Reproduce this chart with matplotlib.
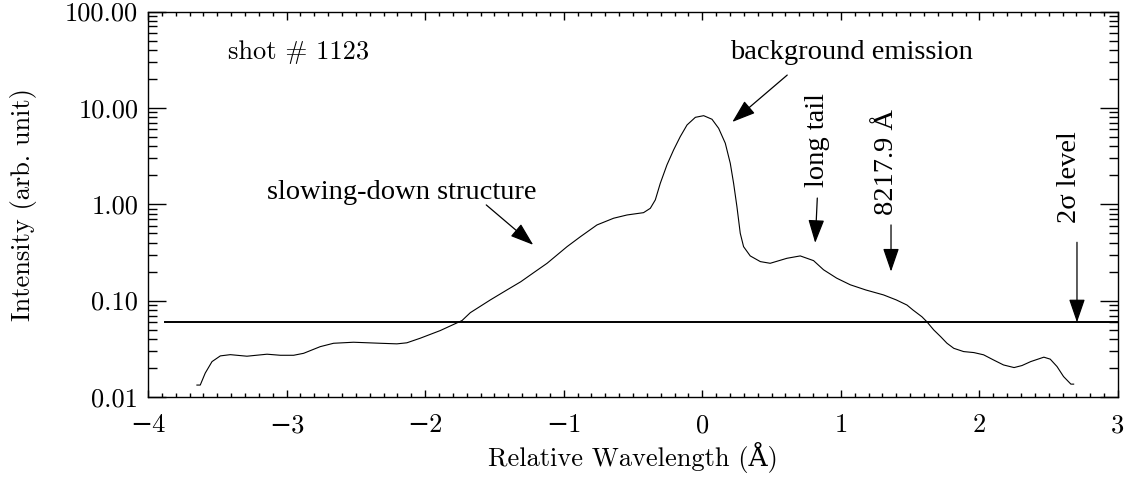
import numpy as np
import matplotlib
matplotlib.use('Agg')
import matplotlib.pyplot as plt
from matplotlib.ticker import MultipleLocator, LogLocator, NullFormatter, FuncFormatter

# spectrum of shot 1123
wavelength = [-3.647, -3.623, -3.587, -3.538, -3.478, -3.406, -3.286, -3.141, -3.045, -2.949,
              -2.877, -2.757, -2.661, -2.517, -2.324, -2.204, -2.132, -2.036, -1.891, -1.734,
              -1.674, -1.53, -1.41, -1.31, -1.217, -1.12, -0.976, -0.88, -0.76, -0.64,
              -0.543, -0.424, -0.375, -0.339, -0.303, -0.255, -0.207, -0.159, -0.11, -0.05,
              0.01, 0.07, 0.118, 0.166, 0.202, 0.226, 0.25, 0.274, 0.298, 0.346,
              0.419, 0.49, 0.611, 0.707, 0.803, 0.875, 0.97, 1.068, 1.18, 1.308,
              1.40, 1.477, 1.52, 1.585, 1.62, 1.67, 1.72, 1.766, 1.815, 1.886,
              1.96, 2.03, 2.10, 2.174, 2.25, 2.307, 2.37, 2.465, 2.511, 2.56,
              2.607, 2.66, 2.68]
intensity = [0.0133, 0.0133, 0.0177, 0.0233, 0.0267, 0.0275, 0.0265, 0.0278, 0.0271, 0.0271,
             0.0284, 0.0333, 0.0361, 0.037, 0.0361, 0.0356, 0.0365, 0.0407, 0.0489, 0.0621,
             0.075, 0.1016, 0.129, 0.157, 0.195, 0.244, 0.363, 0.46, 0.61, 0.716,
             0.774, 0.818, 0.908, 1.11, 1.65, 2.56, 3.66, 5.03, 6.65, 7.98,
             8.3, 7.62, 6.14, 4.30, 2.66, 1.65, 0.944, 0.50, 0.363, 0.291,
             0.254, 0.244, 0.275, 0.291, 0.26, 0.209, 0.171, 0.146, 0.129, 0.1146,
             0.1017, 0.090, 0.080, 0.068, 0.0605, 0.0497, 0.0423, 0.0361, 0.032, 0.0296,
             0.0289, 0.0274, 0.0243, 0.0215, 0.0202, 0.0212, 0.0233, 0.0259, 0.0247, 0.0207,
             0.0163, 0.0136, 0.0136]

sigma2_level = 0.0595
sigma2_range = [-3.875, 3.0]

y_ticks = [0.01, 0.1, 1, 10, 100]

# annotations: text, text position, arrow tail, arrow tip, rotation
notes = [
    ("slowing-down structure", (-2.17, 1.31), (-1.559, 0.984), (-1.22, 0.379), 0),
    ("background emission", (1.079, 37.6), (0.613, 21.9), (0.2165, 7.14), 0),
    ("long tail", (0.83, 4.65), (0.83, 1.16), (0.815, 0.397), 90),
    ("8217.9 Å", (1.328, 2.75), (1.362, 0.61), (1.362, 0.2), 90),
    ("2σ level", (2.65, 1.9), (2.704, 0.403), (2.704, sigma2_level), 90),
]

cm_font = ['cmr10', 'DejaVu Serif']
times_font = ['Liberation Serif', 'DejaVu Serif']

plt.rcParams['axes.linewidth'] = 1.0

fig = plt.figure(figsize=(11.32, 4.78), dpi=100)
ax = fig.add_axes([0.13074, 0.16946, 0.85689, 0.80648])

ax.plot(wavelength, intensity, color='black', lw=0.8)
ax.plot(sigma2_range, [sigma2_level, sigma2_level], color='black', lw=1.4)

ax.set_yscale('log')
ax.set_xlim(-4, 3)
ax.set_ylim(0.01, 100)

ax.yaxis.set_minor_locator(LogLocator(base=10, subs=np.arange(2, 10)))
ax.yaxis.set_minor_formatter(NullFormatter())
ax.set_yticks(y_ticks)
ax.yaxis.set_major_formatter(FuncFormatter(lambda v, _: f'{v:.2f}'))

ax.xaxis.set_major_locator(MultipleLocator(1))
ax.xaxis.set_minor_locator(MultipleLocator(0.1))
ax.xaxis.set_major_formatter(FuncFormatter(lambda v, _: f'{v:g}'.replace('-', '\u2212')))

ax.tick_params(axis='y', which='major', direction='in', length=13, width=1.0,
               left=True, right=True, pad=7)
ax.tick_params(axis='y', which='minor', direction='in', length=6.5, width=1.0,
               left=True, right=True)
ax.tick_params(axis='x', which='major', direction='in', length=5.4, width=1.0,
               bottom=True, top=True, pad=12)
ax.tick_params(axis='x', which='minor', direction='in', length=2.7, width=1.0,
               bottom=True, top=True)

for lbl in ax.get_xticklabels() + ax.get_yticklabels():
    lbl.set_family(cm_font)
    lbl.set_fontsize(19)

ax.set_xlabel('Relative Wavelength (Å)', family=cm_font, fontsize=19)
ax.set_ylabel('Intensity (arb. unit)', family=cm_font, fontsize=19)
ax.xaxis.label.set_va('center')
ax.yaxis.label.set_va('center')
ax.xaxis.set_label_coords(0.5, -0.158)
ax.yaxis.set_label_coords(-0.128, 0.5)

ax.text(-2.916, 38, 'shot # 1123', family=cm_font, fontsize=19,
        ha='center', va='center')

for text, pos, tail, tip, rot in notes:
    ax.text(pos[0], pos[1], text, family=times_font, fontsize=20.5,
            ha='center', va='center', rotation=rot)
    ax.annotate('', xy=tip, xytext=tail,
                arrowprops=dict(arrowstyle='-|>,head_length=1.45,head_width=0.5',
                                mutation_scale=10, color='black', lw=0.9,
                                shrinkA=0, shrinkB=0))

fig.savefig('out.png', dpi=100)
